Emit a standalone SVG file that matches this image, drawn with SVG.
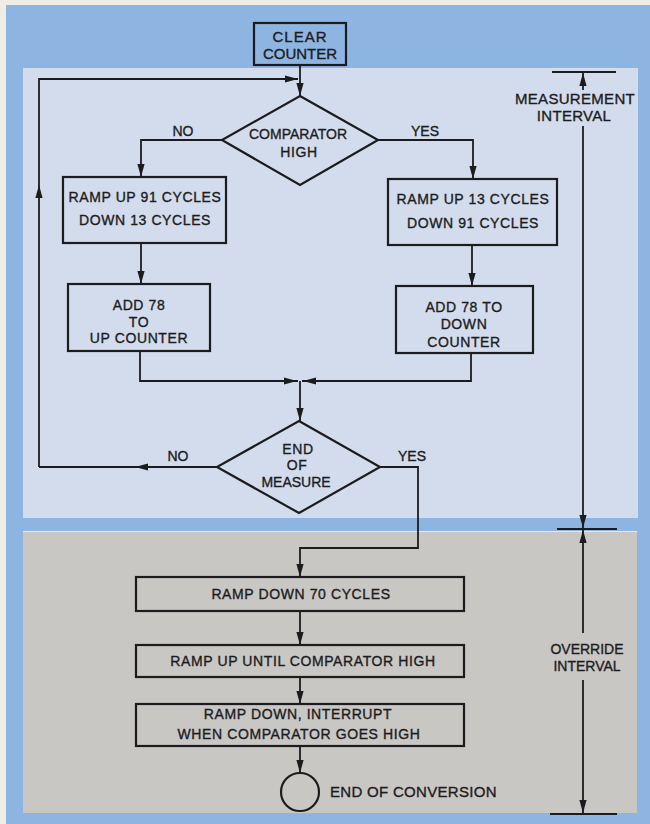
<svg xmlns="http://www.w3.org/2000/svg" xmlns:xlink="http://www.w3.org/1999/xlink" width="650" height="824" viewBox="0 0 650 824">
<style>
.t{font-family:"Liberation Sans",Arial,sans-serif;font-size:14px;fill:#1c1c1e;stroke:#1c1c1e;stroke-width:0.35px;text-anchor:middle;letter-spacing:0.6px}
.lb{font-family:"Liberation Sans",Arial,sans-serif;font-size:14px;fill:#1c1c1e;stroke:#1c1c1e;stroke-width:0.35px;text-anchor:middle}
.box{fill:none;stroke:#1c1c1e;stroke-width:2.2}
.ln{fill:none;stroke:#1c1c1e;stroke-width:1.8}
.ah{fill:#1c1c1e}
</style>
<defs>
<path id="ah" d="M0,0 L-13,-3.6 L-13,3.6 z"/>
</defs>
<g id="background">
<rect x="0" y="0" width="650" height="824" fill="#efece6"/>
<rect x="6" y="5" width="644" height="819" fill="#8eb4e1"/>
<rect x="23" y="68" width="615" height="450" fill="#d3dced"/>
<rect x="23" y="532" width="614" height="281" fill="#c9c7c4"/>
<line x1="23" y1="531.5" x2="637" y2="531.5" stroke="#e6e8ec" stroke-width="1"/>
</g>
<g id="connectors">
<g class="ln">
<polyline points="300,65 300,96"/>
<polyline points="39,467 39,79 298,79"/>
<polyline points="222,140 141,140 141,177"/>
<polyline points="378,140 473,140 473,179"/>
<polyline points="141,243 141,284"/>
<polyline points="472,245 472,286"/>
<polyline points="140,351 140,381 298,381"/>
<polyline points="471,353 471,381 302,381"/>
<polyline points="300,381 300,421"/>
<polyline points="217,467 39,467"/>
<polyline points="380,467 418,467 418,548 300,548 300,577"/>
<polyline points="300,611 300,645"/>
<polyline points="300,677 300,704"/>
<polyline points="300,746 300,773"/>
</g>
<g class="ah">
<use xlink:href="#ah" transform="translate(300,96) rotate(90)"/>
<use xlink:href="#ah" transform="translate(39,185) rotate(-90)"/>
<use xlink:href="#ah" transform="translate(298,79)"/>
<use xlink:href="#ah" transform="translate(141,177) rotate(90)"/>
<use xlink:href="#ah" transform="translate(473,179) rotate(90)"/>
<use xlink:href="#ah" transform="translate(141,284) rotate(90)"/>
<use xlink:href="#ah" transform="translate(472,286) rotate(90)"/>
<use xlink:href="#ah" transform="translate(297,381)"/>
<use xlink:href="#ah" transform="translate(303,381) rotate(180)"/>
<use xlink:href="#ah" transform="translate(300,421) rotate(90)"/>
<use xlink:href="#ah" transform="translate(135,467) rotate(180)"/>
<use xlink:href="#ah" transform="translate(300,577) rotate(90)"/>
<use xlink:href="#ah" transform="translate(300,645) rotate(90)"/>
<use xlink:href="#ah" transform="translate(300,704) rotate(90)"/>
<use xlink:href="#ah" transform="translate(300,773) rotate(90)"/>
</g>
<text class="lb" x="183" y="136">NO</text>
<text class="lb" x="425" y="136">YES</text>
<text class="lb" x="178" y="461">NO</text>
<text class="lb" x="412" y="461">YES</text>
</g>
<g id="clear-counter">
<rect class="box" x="254" y="23" width="92" height="42"/>
<text class="t" x="300" y="42" style="font-size:15px;letter-spacing:1px">CLEAR</text>
<text class="t" x="300" y="59" style="font-size:15px;letter-spacing:0">COUNTER</text>
</g>
<g id="comparator-high">
<polygon class="box" points="300,96 378,140 300,185 222,140"/>
<text class="t" x="298" y="139" style="letter-spacing:0">COMPARATOR</text>
<text class="t" x="299" y="157">HIGH</text>
</g>
<g id="ramp-up-91">
<rect class="box" x="63" y="177" width="163" height="66"/>
<text class="t" x="145" y="202">RAMP UP 91 CYCLES</text>
<text class="t" x="145" y="225">DOWN 13 CYCLES</text>
</g>
<g id="ramp-up-13">
<rect class="box" x="388" y="179" width="169" height="66"/>
<text class="t" x="473" y="204">RAMP UP 13 CYCLES</text>
<text class="t" x="473" y="228">DOWN 91 CYCLES</text>
</g>
<g id="add-up">
<rect class="box" x="68" y="284" width="142" height="67"/>
<text class="t" x="139" y="310">ADD 78</text>
<text class="t" x="139" y="327">TO</text>
<text class="t" x="139" y="343">UP COUNTER</text>
</g>
<g id="add-down">
<rect class="box" x="396" y="286" width="137" height="67"/>
<text class="t" x="464" y="312">ADD 78 TO</text>
<text class="t" x="464" y="329">DOWN</text>
<text class="t" x="464" y="347">COUNTER</text>
</g>
<g id="end-of-measure">
<polygon class="box" points="299,421 380,467 299,513 217,467"/>
<text class="t" x="298" y="454">END</text>
<text class="t" x="297" y="470">OF</text>
<text class="t" x="296" y="487" style="letter-spacing:0">MEASURE</text>
</g>
<g id="ramp-down-70">
<rect class="box" x="136" y="577" width="328" height="34"/>
<text class="t" x="301" y="599">RAMP DOWN 70 CYCLES</text>
</g>
<g id="ramp-up-until">
<rect class="box" x="136" y="645" width="328" height="32"/>
<text class="t" x="303" y="666">RAMP UP UNTIL COMPARATOR HIGH</text>
</g>
<g id="ramp-down-interrupt">
<rect class="box" x="136" y="704" width="328" height="42"/>
<text class="t" x="298" y="719">RAMP DOWN, INTERRUPT</text>
<text class="t" x="299" y="739">WHEN COMPARATOR GOES HIGH</text>
</g>
<g id="end-of-conversion">
<circle class="box" cx="300" cy="792" r="19"/>
<text class="t" x="330" y="797" style="text-anchor:start;font-size:15px;letter-spacing:0.3px">END OF CONVERSION</text>
</g>
<g id="interval-markers">
<g class="ln">
<line x1="552" y1="72" x2="616" y2="72" stroke-width="2.2"/>
<line x1="583" y1="72" x2="583" y2="90"/>
<line x1="583" y1="126" x2="583" y2="529"/>
<line x1="557" y1="529" x2="617" y2="529" stroke-width="2.2"/>
<line x1="583" y1="529" x2="583" y2="633"/>
<line x1="583" y1="680" x2="583" y2="814"/>
<line x1="550" y1="814" x2="617" y2="814" stroke-width="2.2"/>
</g>
<g class="ah">
<use xlink:href="#ah" transform="translate(583,73) rotate(-90)"/>
<use xlink:href="#ah" transform="translate(583,528) rotate(90)"/>
<use xlink:href="#ah" transform="translate(583,530) rotate(-90)"/>
<use xlink:href="#ah" transform="translate(583,813) rotate(90)"/>
</g>
<text class="t" x="575" y="104" style="font-size:15px;letter-spacing:0.3px">MEASUREMENT</text>
<text class="t" x="574" y="121" style="font-size:15px;letter-spacing:0.3px">INTERVAL</text>
<text class="t" x="587" y="654" style="letter-spacing:0">OVERRIDE</text>
<text class="t" x="587" y="671" style="letter-spacing:0">INTERVAL</text>
</g>
</svg>
